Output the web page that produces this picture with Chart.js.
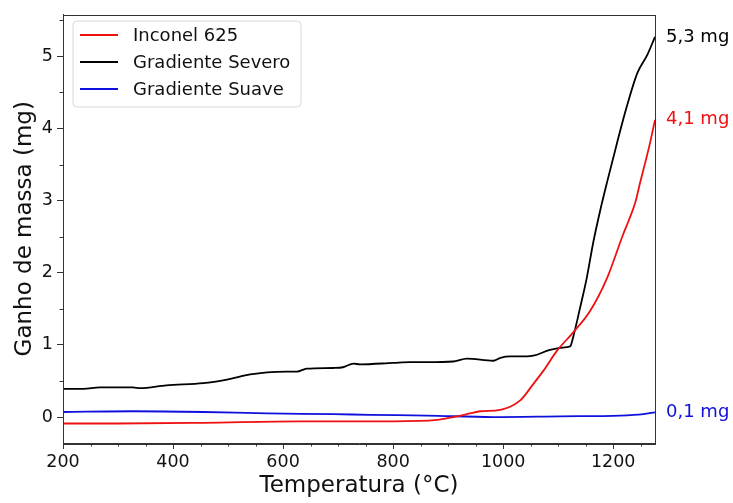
<!DOCTYPE html>
<html>
<head>
<meta charset="utf-8">
<script src="https://cdn.jsdelivr.net/npm/chart.js@4/dist/chart.umd.min.js"></script>
<style>
  html, body { margin: 0; padding: 0; background: #fff; }
  #wrap { width: 733px; height: 503px; }
</style>
</head>
<body>
<div id="wrap"><canvas id="c" width="733" height="503"></canvas></div>
<script>
// ---- data ----
const seriesNames = ['Inconel 625', 'Gradiente Severo', 'Gradiente Suave'];
const seriesColors = ['#ee1111', '#000000', '#1010dd'];
const endLabels = ['4,1 mg', '5,3 mg', '0,1 mg'];

const inconelT = [200, 300, 455, 631, 740, 800, 880, 909, 940, 958, 995, 1031, 1055, 1073, 1098, 1127, 1158, 1189, 1218, 1227, 1240, 1249, 1258, 1267, 1276];
const inconelV = [-0.09, -0.09, -0.08, -0.06, -0.06, -0.06, -0.04, 0.0, 0.05, 0.08, 0.10, 0.23, 0.46, 0.64, 0.92, 1.17, 1.47, 1.93, 2.53, 2.70, 2.97, 3.25, 3.52, 3.80, 4.12];

const severoT = [200, 237, 267, 327, 340, 388, 455, 498, 540, 571, 607, 625, 643, 691, 709, 728, 740, 800, 831, 862, 909, 934, 982, 995, 1013, 1043, 1055, 1085, 1116, 1122, 1127, 1140, 1152, 1164, 1176, 1189, 1207, 1225, 1244, 1262, 1276];
const severoV = [0.39, 0.39, 0.41, 0.41, 0.40, 0.44, 0.47, 0.52, 0.59, 0.62, 0.63, 0.63, 0.67, 0.68, 0.69, 0.74, 0.73, 0.75, 0.76, 0.76, 0.77, 0.81, 0.78, 0.82, 0.84, 0.84, 0.85, 0.93, 0.97, 0.98, 1.10, 1.52, 1.93, 2.43, 2.85, 3.26, 3.80, 4.31, 4.77, 5.02, 5.27];

const suaveT = [200, 327, 455, 571, 691, 758, 862, 982, 1104, 1213, 1255, 1276];
const suaveV = [0.07, 0.08, 0.07, 0.05, 0.04, 0.03, 0.02, 0.0, 0.01, 0.02, 0.04, 0.065];

const xTicks = [200, 400, 600, 800, 1000, 1200];
const yTicks = [0, 1, 2, 3, 4, 5];
const xMinorTicks = [250, 300, 350, 450, 500, 550, 650, 700, 750, 850, 900, 950, 1050, 1100, 1150, 1250];
const yMinorTicks = [0.5, 1.5, 2.5, 3.5, 4.5, 5.5];

const xTitle = 'Temperatura (°C)';
const yTitle = 'Ganho de massa (mg)';

// ---- helpers ----
const pts = (T, V) => T.map((t, i) => ({ x: t, y: V[i] }));
const FONT = "'DejaVu Sans', sans-serif";
const AXIS = '#333333';

const framePlugin = {
  id: 'frame',
  afterDraw(chart) {
    const { ctx, chartArea: a, scales } = chart;
    ctx.save();
    // frame
    ctx.strokeStyle = AXIS;
    ctx.lineWidth = 1;
    ctx.strokeRect(Math.round(a.left) + 0.5, Math.round(a.top) + 0.5, Math.round(a.right - a.left), Math.round(a.bottom - a.top));
    // minor ticks
    ctx.beginPath();
    xMinorTicks.forEach(v => {
      const px = Math.round(scales.x.getPixelForValue(v)) + 0.5;
      ctx.moveTo(px, a.bottom);
      ctx.lineTo(px, a.bottom + 3.5);
    });
    yMinorTicks.forEach(v => {
      const py = Math.round(scales.y.getPixelForValue(v)) + 0.5;
      ctx.moveTo(a.left, py);
      ctx.lineTo(a.left - 3.5, py);
    });
    ctx.stroke();
    // end labels
    ctx.font = '18px ' + FONT;
    ctx.textBaseline = 'middle';
    ctx.textAlign = 'left';
    chart.data.datasets.forEach((ds, i) => {
      const last = ds.data[ds.data.length - 1];
      const py = scales.y.getPixelForValue(last.y);
      ctx.fillStyle = seriesColors[i];
      ctx.fillText(endLabels[i], a.right + 11, py);
    });
    // legend
    const lx = 73, ly = 21, lw = 228, lh = 86, r = 4;
    ctx.beginPath();
    ctx.moveTo(lx + r, ly);
    ctx.lineTo(lx + lw - r, ly);
    ctx.quadraticCurveTo(lx + lw, ly, lx + lw, ly + r);
    ctx.lineTo(lx + lw, ly + lh - r);
    ctx.quadraticCurveTo(lx + lw, ly + lh, lx + lw - r, ly + lh);
    ctx.lineTo(lx + r, ly + lh);
    ctx.quadraticCurveTo(lx, ly + lh, lx, ly + lh - r);
    ctx.lineTo(lx, ly + r);
    ctx.quadraticCurveTo(lx, ly, lx + r, ly);
    ctx.closePath();
    ctx.fillStyle = 'rgba(255,255,255,0.9)';
    ctx.fill();
    ctx.strokeStyle = '#d6d6d6';
    ctx.lineWidth = 1;
    ctx.stroke();
    chart.data.datasets.forEach((ds, i) => {
      const y = ly + 14 + i * 27;
      ctx.strokeStyle = seriesColors[i];
      ctx.lineWidth = 2;
      ctx.beginPath();
      ctx.moveTo(80, y);
      ctx.lineTo(118, y);
      ctx.stroke();
      ctx.fillStyle = '#111';
      ctx.font = '18px ' + FONT;
      ctx.fillText(ds.label, 133, y + 1);
    });
    ctx.restore();
  }
};

new Chart(document.getElementById('c'), {
  type: 'line',
  data: {
    datasets: [
      { label: seriesNames[0], data: pts(inconelT, inconelV), borderColor: seriesColors[0] },
      { label: seriesNames[1], data: pts(severoT, severoV), borderColor: seriesColors[1] },
      { label: seriesNames[2], data: pts(suaveT, suaveV), borderColor: seriesColors[2] }
    ]
  },
  options: {
    responsive: false,
    animation: false,
    parsing: false,
    elements: {
      point: { radius: 0 },
      line: { borderWidth: 1.8, cubicInterpolationMode: 'monotone' }
    },
    layout: { padding: { left: 0, right: 78, top: 11, bottom: 0 } },
    plugins: {
      legend: { display: false },
      tooltip: { enabled: false }
    },
    scales: {
      x: {
        type: 'linear',
        min: 200,
        max: 1276,
        afterBuildTicks: s => { s.ticks = xTicks.map(v => ({ value: v })); },
        afterFit: s => { s.height = 60; },
        grid: { drawOnChartArea: false, drawTicks: true, tickLength: 6, color: AXIS, tickWidth: 1 },
        border: { display: true, color: AXIS, width: 1 },
        ticks: { font: { family: FONT, size: 17.5 }, color: '#111', padding: 3, maxRotation: 0, callback: v => String(v) },
        title: { display: true, text: xTitle, font: { family: FONT, size: 23 }, color: '#111', padding: { top: 0, bottom: 3 } }
      },
      y: {
        type: 'linear',
        min: -0.36,
        max: 5.58,
        afterBuildTicks: s => { s.ticks = yTicks.map(v => ({ value: v })); },
        afterFit: s => { s.width = 63; },
        grid: { drawOnChartArea: false, drawTicks: true, tickLength: 6, color: AXIS, tickWidth: 1 },
        border: { display: true, color: AXIS, width: 1 },
        ticks: { font: { family: FONT, size: 17.5 }, color: '#111', padding: 4, callback: v => String(v) },
        title: { display: true, text: yTitle, font: { family: FONT, size: 23 }, color: '#111', padding: { top: 11, bottom: 0 } }
      }
    }
  },
  plugins: [framePlugin]
});
</script>
</body>
</html>
